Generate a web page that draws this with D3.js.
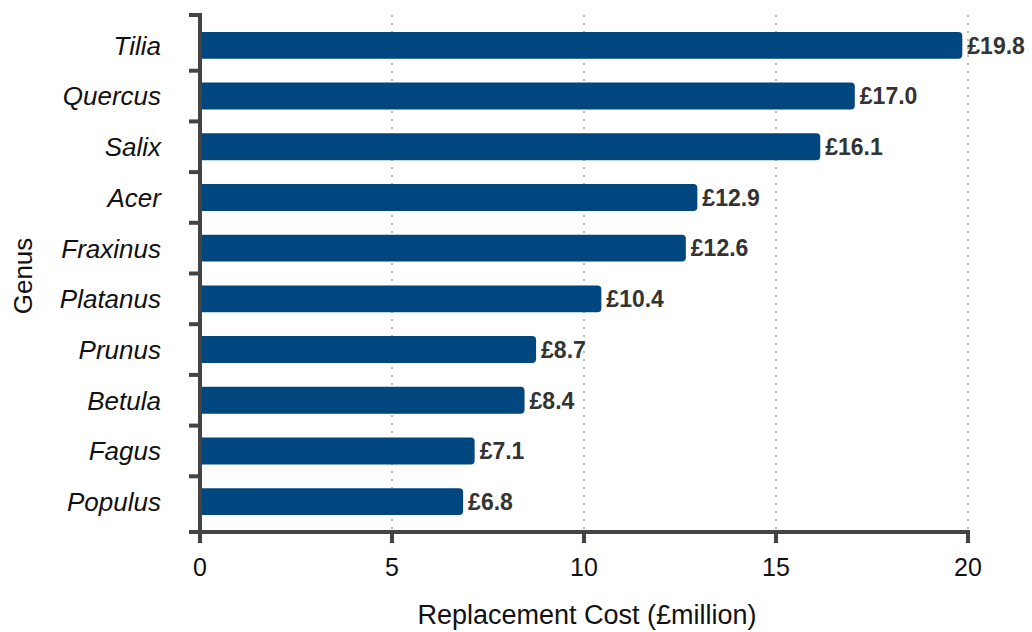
<!DOCTYPE html>
<html>
<head>
<meta charset="utf-8">
<script src="https://cdn.jsdelivr.net/npm/d3@7"></script>
<style>
  body { margin: 0; background: #fff; }
  text { font-family: "Liberation Sans", Arial, Helvetica, sans-serif; }
</style>
</head>
<body>
<svg id="chart" width="1032" height="632"></svg>
<script>
// genera, top to bottom
var genera = ["Tilia", "Quercus", "Salix", "Acer", "Fraxinus", "Platanus", "Prunus", "Betula", "Fagus", "Populus"];
// replacement cost, £ million
var costs = [19.8, 17.0, 16.1, 12.9, 12.6, 10.4, 8.7, 8.4, 7.1, 6.8];
var xTicks = [0, 5, 10, 15, 20];

var svg = d3.select("#chart");
var mLeft = 200, mRight = 968, mTop = 15, mBottom = 532;
var axisColor = "#444";

var x = d3.scaleLinear().domain([0, 20]).range([mLeft, mRight]);
var y = d3.scaleBand().domain(genera).range([mTop + 5, mBottom - 5]).paddingInner(0.47).paddingOuter(0.235);

// dotted grid lines
svg.append("g").selectAll("line")
    .data(xTicks.slice(1))
    .enter().append("line")
    .attr("x1", function(d) { return x(d); })
    .attr("x2", function(d) { return x(d); })
    .attr("y1", mTop)
    .attr("y2", mBottom)
    .attr("stroke", "#bbb")
    .attr("stroke-width", 2)
    .attr("stroke-dasharray", "2,6");

// bars, rounded on the right end
var r = 4;
svg.append("g").selectAll("path")
    .data(costs)
    .enter().append("path")
    .attr("fill", "#00467f")
    .attr("d", function(d, i) {
      var x0 = x(0) + 1, x1 = x(d) + 2, y0 = y(genera[i]), h = y.bandwidth();
      return "M" + x0 + "," + y0 +
        "H" + (x1 - r) +
        "Q" + x1 + "," + y0 + " " + x1 + "," + (y0 + r) +
        "V" + (y0 + h - r) +
        "Q" + x1 + "," + (y0 + h) + " " + (x1 - r) + "," + (y0 + h) +
        "H" + x0 + "Z";
    });

// value labels
svg.append("g").selectAll("text")
    .data(costs)
    .enter().append("text")
    .attr("x", function(d) { return x(d) + 7; })
    .attr("y", function(d, i) { return y(genera[i]) + y.bandwidth() / 2; })
    .attr("dy", "0.36em")
    .attr("font-size", 23)
    .attr("font-weight", "bold")
    .attr("fill", "#333")
    .text(function(d) { return "£" + d.toFixed(1); });

// y axis line + ticks at band boundaries
var yAxis = svg.append("g");
yAxis.append("line")
    .attr("x1", mLeft).attr("x2", mLeft)
    .attr("y1", mTop - 2).attr("y2", mBottom + 2)
    .attr("stroke", axisColor).attr("stroke-width", 4);
var boundaries = [mTop];
for (var i = 1; i < genera.length; i++) {
  boundaries.push((y(genera[i - 1]) + y.bandwidth() + y(genera[i])) / 2);
}
boundaries.push(mBottom);
yAxis.selectAll("line.tick")
    .data(boundaries)
    .enter().append("line")
    .attr("class", "tick")
    .attr("x1", mLeft - 11).attr("x2", mLeft)
    .attr("y1", function(d) { return d; })
    .attr("y2", function(d) { return d; })
    .attr("stroke", axisColor).attr("stroke-width", 4);
yAxis.selectAll("text")
    .data(genera)
    .enter().append("text")
    .attr("x", mLeft - 39)
    .attr("y", function(d) { return y(d) + y.bandwidth() / 2; })
    .attr("dy", "0.36em")
    .attr("text-anchor", "end")
    .attr("font-size", 26)
    .attr("font-style", "italic")
    .attr("fill", "#111")
    .text(function(d) { return d; });

// x axis
var xAxis = svg.append("g");
xAxis.append("line")
    .attr("x1", mLeft - 2).attr("x2", mRight + 2)
    .attr("y1", mBottom).attr("y2", mBottom)
    .attr("stroke", axisColor).attr("stroke-width", 4);
xAxis.selectAll("line.tick")
    .data(xTicks)
    .enter().append("line")
    .attr("class", "tick")
    .attr("x1", function(d) { return x(d); })
    .attr("x2", function(d) { return x(d); })
    .attr("y1", mBottom).attr("y2", mBottom + 11)
    .attr("stroke", axisColor).attr("stroke-width", 4);
xAxis.selectAll("text")
    .data(xTicks)
    .enter().append("text")
    .attr("x", function(d) { return x(d); })
    .attr("y", 576)
    .attr("text-anchor", "middle")
    .attr("font-size", 25)
    .attr("fill", "#111")
    .text(function(d) { return d; });

// axis titles
svg.append("text")
    .attr("x", (mLeft + mRight) / 2 + 3)
    .attr("y", 624)
    .attr("text-anchor", "middle")
    .attr("font-size", 27)
    .attr("fill", "#111")
    .text("Replacement Cost (£million)");

svg.append("text")
    .attr("transform", "translate(32,276) rotate(-90)")
    .attr("text-anchor", "middle")
    .attr("font-size", 26)
    .attr("fill", "#111")
    .text("Genus");
</script>
</body>
</html>
